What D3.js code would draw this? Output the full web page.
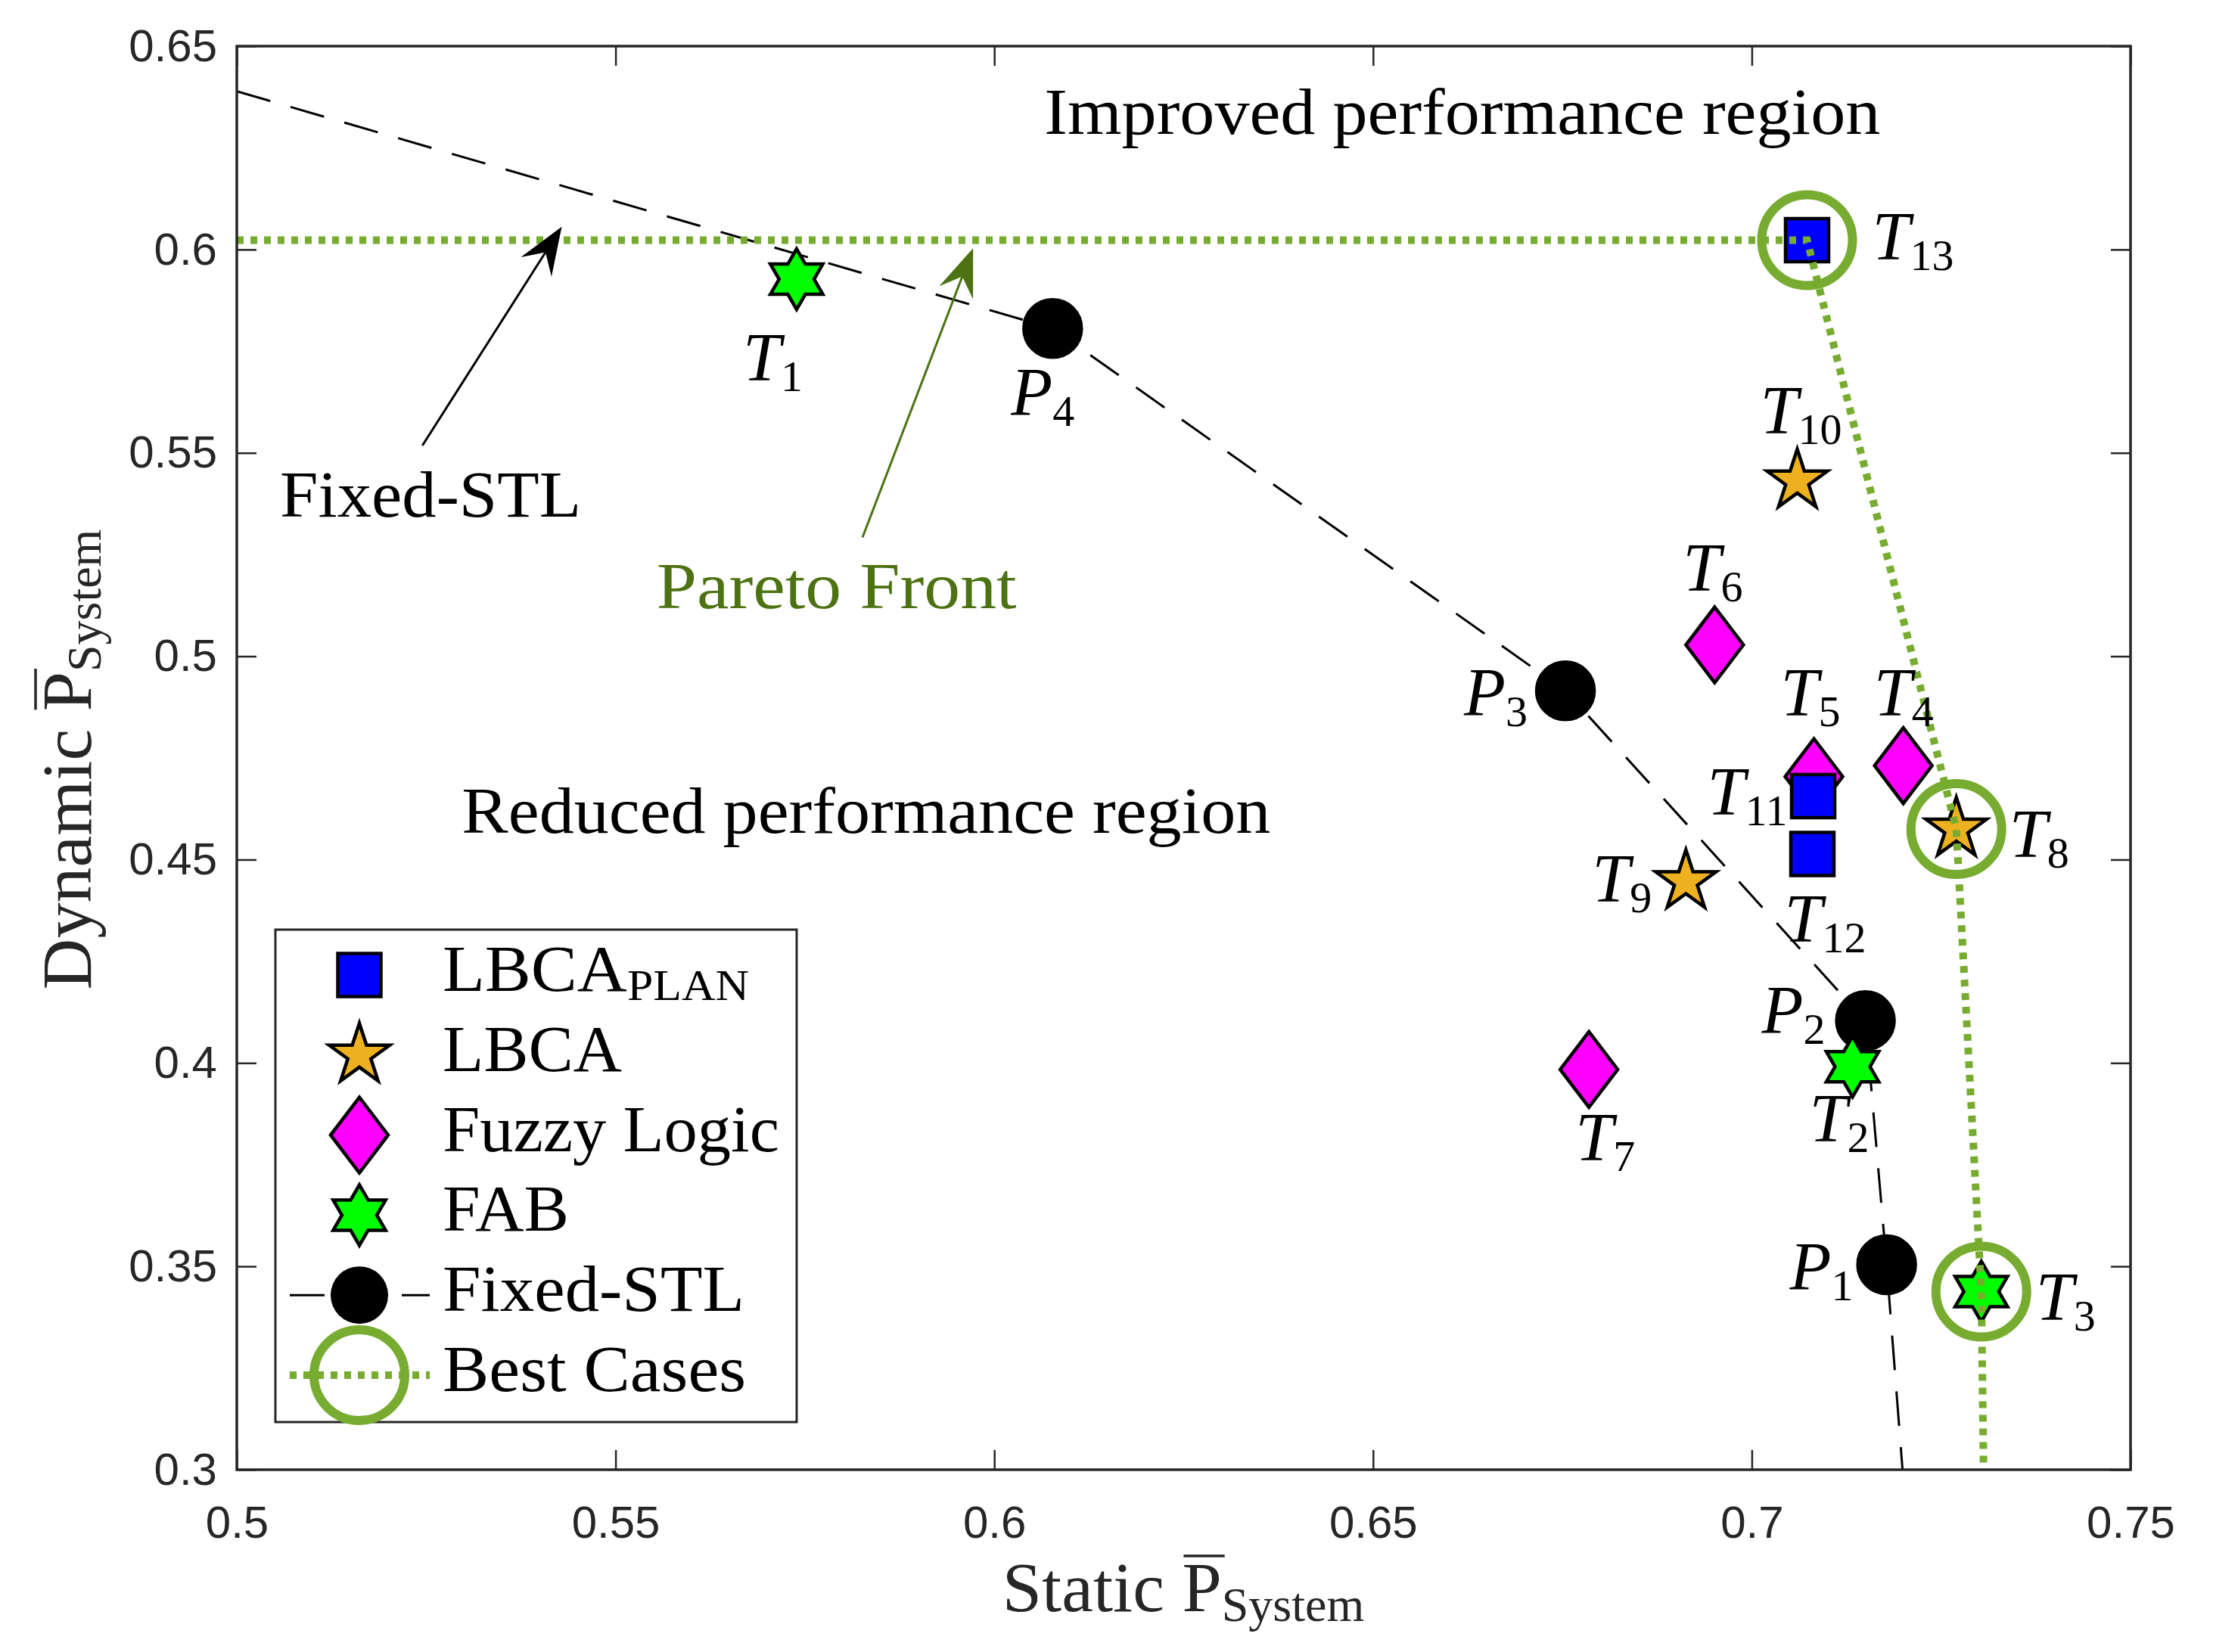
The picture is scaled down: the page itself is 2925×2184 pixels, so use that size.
<!DOCTYPE html>
<html>
<head>
<meta charset="utf-8">
<script src="https://cdn.jsdelivr.net/npm/d3@7"></script>
<style>
  body { margin: 0; background: #fff; }
  svg { display: block; }
</style>
</head>
<body>
<div id="chart"></div>
<script>
// values
var xTicks = [0.5, 0.55, 0.6, 0.65, 0.7, 0.75];
var yTicks = [0.3, 0.35, 0.4, 0.45, 0.5, 0.55, 0.6, 0.65];

var lbcaPlan = [
  {id: "13", x: 0.7073, y: 0.6023},
  {id: "11", x: 0.7081, y: 0.4656},
  {id: "12", x: 0.7080, y: 0.4514}
];
var lbca = [
  {id: "10", x: 0.7060, y: 0.5431},
  {id: "8",  x: 0.7270, y: 0.4575},
  {id: "9",  x: 0.6913, y: 0.4446}
];
var fuzzy = [
  {id: "6", x: 0.6951, y: 0.5028},
  {id: "5", x: 0.7082, y: 0.4704},
  {id: "4", x: 0.7200, y: 0.4731},
  {id: "7", x: 0.6785, y: 0.3984}
];
var fab = [
  {id: "1", x: 0.5739, y: 0.5927},
  {id: "2", x: 0.7133, y: 0.3991},
  {id: "3", x: 0.7303, y: 0.3438}
];
// dashed Fixed-STL curve; points with an id carry a marker
var fixedStl = [
  {id: null, x: 0.5,    y: 0.6389},
  {id: "4",  x: 0.6077, y: 0.5806},
  {id: "3",  x: 0.6754, y: 0.4915},
  {id: "2",  x: 0.7150, y: 0.4104},
  {id: "1",  x: 0.7178, y: 0.3504},
  {id: null, x: 0.7199, y: 0.30}
];
// pareto front (dotted) and circled best cases
var pareto = [
  {x: 0.5,    y: 0.6023},
  {x: 0.7073, y: 0.6023},
  {x: 0.7270, y: 0.4575},
  {x: 0.7303, y: 0.3438},
  {x: 0.7306, y: 0.30}
];
var bestCases = [
  {x: 0.7073, y: 0.6023},
  {x: 0.7270, y: 0.4575},
  {x: 0.7303, y: 0.3438}
];
var legendItems = ["LBCA", "LBCA", "Fuzzy Logic", "FAB", "Fixed-STL", "Best Cases"];
var legendWidths = [405, 237, 445, 167, 399, 401];

// annotations (data coords, like matlab text/annotation)
var notes = [
  {text: "Improved performance region", x: 0.6066, y: 0.6284, w: 1105, color: "#000"},
  {text: "Reduced performance region",  x: 0.5297, y: 0.4565, w: 1069, color: "#000"},
  {text: "Fixed-STL",                   x: 0.5057, y: 0.5343, w: 398,  color: "#000"},
  {text: "Pareto Front",                x: 0.5554, y: 0.5118, w: 476,  color: "#4c7212"}
];
var arrows = [
  {from: [0.5245, 0.5518], to: [0.5429, 0.6056], color: "#000"},
  {from: [0.5826, 0.5292], to: [0.5972, 0.6003], color: "#4c7212"}
];

// label placement (px from marker centre to text start / baseline)
var labelOffsets = {
  T13: [86, 26],  T11: [-140, 24], T12: [-37, 116],
  T10: [-49, -63], T8: [70, 37],   T9: [-124, 27],
  T6: [-42, -72],  T5: [-44, -81], T4: [-39, -66], T7: [-18, 120],
  T1: [-71, 134],  T2: [-57, 99],  T3: [72, 38],
  P4: [-55, 115],  P3: [-134, 33], P2: [-137, 17], P1: [-128, 33]
};

var W = 2925, H = 2184;
var serif = "'Liberation Serif', 'DejaVu Serif', serif";
var sans = "'Liberation Sans', Arial, sans-serif";
var axisColor = "#262626";
var green = "#77ac30";

var x = d3.scaleLinear().domain([0.5, 0.75]).range([313, 2816]);
var y = d3.scaleLinear().domain([0.3, 0.65]).range([1943, 61]);

var svg = d3.select("#chart").append("svg")
  .attr("width", W).attr("height", H)
  .style("background", "#fff");

svg.append("defs").append("clipPath").attr("id", "plotclip")
  .append("rect")
  .attr("x", x(0.5)).attr("y", y(0.65))
  .attr("width", x(0.75) - x(0.5)).attr("height", y(0.3) - y(0.65));

// marker shapes
var hexagram = {draw: function(ctx, r) {
  var ri = r / Math.sqrt(3);
  for (var i = 0; i < 12; i++) {
    var a = -Math.PI / 2 + i * Math.PI / 6, rr = i % 2 ? ri : r;
    if (i === 0) ctx.moveTo(rr * Math.cos(a), rr * Math.sin(a));
    else ctx.lineTo(rr * Math.cos(a), rr * Math.sin(a));
  }
  ctx.closePath();
}};
var pentagram = {draw: function(ctx, r) {
  var ri = r * 0.382;
  for (var i = 0; i < 10; i++) {
    var a = -Math.PI / 2 + i * Math.PI / 5, rr = i % 2 ? ri : r;
    if (i === 0) ctx.moveTo(rr * Math.cos(a), rr * Math.sin(a));
    else ctx.lineTo(rr * Math.cos(a), rr * Math.sin(a));
  }
  ctx.closePath();
}};
var diamond = {draw: function(ctx, r) {
  var w = r * 0.76;
  ctx.moveTo(0, -r); ctx.lineTo(w, 0); ctx.lineTo(0, r); ctx.lineTo(-w, 0);
  ctx.closePath();
}};
var square = {draw: function(ctx, r) { ctx.rect(-r, -r, 2 * r, 2 * r); }};
var circle = {draw: function(ctx, r) { ctx.moveTo(r, 0); ctx.arc(0, 0, r, 0, 2 * Math.PI); }};

var styles = {
  plan:  {type: square,    size: 28.5, fill: "#0000ff"},
  lbca:  {type: pentagram, size: 42,   fill: "#edb120"},
  fuzzy: {type: diamond,   size: 50,   fill: "#ff00ff"},
  fab:   {type: hexagram,  size: 40,   fill: "#00ff00"},
  fixed: {type: circle,    size: 38,   fill: "#000"}
};

function symbolPath(st) { return d3.symbol().type(st.type).size(st.size)(); }

// axes ticks (inside, mirrored on top/right)
var gAx = svg.append("g");
gAx.append("g").attr("transform", "translate(0," + y(0.3) + ")")
  .call(d3.axisBottom(x).tickValues(xTicks).tickSize(-26).tickPadding(47)
    .tickFormat(function(d) { return String(+d.toFixed(2)); }));
gAx.append("g").attr("transform", "translate(0," + y(0.65) + ")")
  .call(d3.axisTop(x).tickValues(xTicks).tickSize(-26).tickFormat(""));
gAx.append("g").attr("transform", "translate(" + x(0.5) + ",0)")
  .call(d3.axisLeft(y).tickValues(yTicks).tickSize(-26).tickPadding(26)
    .tickFormat(function(d) { return String(+d.toFixed(2)); }));
gAx.append("g").attr("transform", "translate(" + x(0.75) + ",0)")
  .call(d3.axisRight(y).tickValues(yTicks).tickSize(-26).tickFormat(""));
gAx.selectAll(".domain").remove();
gAx.selectAll(".tick line").attr("stroke", axisColor).attr("stroke-width", 2.5);
gAx.selectAll(".tick text").attr("fill", axisColor)
  .attr("font-family", sans).attr("font-size", 60);

var plot = svg.append("g").attr("clip-path", "url(#plotclip)");

// Fixed-STL dashed line + circles
var line = d3.line().x(function(d) { return x(d.x); }).y(function(d) { return y(d.y); });
plot.append("path").datum(fixedStl).attr("d", line)
  .attr("fill", "none").attr("stroke", "#000").attr("stroke-width", 3)
  .attr("stroke-dasharray", "46,28");

function drawMarkers(data, st) {
  plot.append("g").selectAll("path").data(data).enter().append("path")
    .attr("transform", function(d) { return "translate(" + x(d.x) + "," + y(d.y) + ")"; })
    .attr("d", symbolPath(st))
    .attr("fill", st.fill).attr("stroke", "#000").attr("stroke-width", 4.5)
    .attr("stroke-linejoin", "miter");
}
drawMarkers(fixedStl.filter(function(d) { return d.id; }), styles.fixed);
drawMarkers(fuzzy, styles.fuzzy);
drawMarkers(lbcaPlan, styles.plan);
drawMarkers(lbca, styles.lbca);
drawMarkers(fab, styles.fab);

// pareto front + best cases
plot.append("path").datum(pareto).attr("d", line)
  .attr("fill", "none").attr("stroke", green).attr("stroke-width", 10)
  .attr("stroke-dasharray", "9,9");
plot.append("g").selectAll("circle").data(bestCases).enter().append("circle")
  .attr("cx", function(d) { return x(d.x); }).attr("cy", function(d) { return y(d.y); })
  .attr("r", 60).attr("fill", "none").attr("stroke", green).attr("stroke-width", 12);

// point labels
var gLab = svg.append("g").attr("font-family", serif).attr("fill", "#000");
function labels(data, letter) {
  data.forEach(function(d) {
    if (!d.id) return;
    var o = labelOffsets[letter + d.id];
    var t = gLab.append("text").attr("x", x(d.x) + o[0]).attr("y", y(d.y) + o[1])
      .attr("font-size", 90);
    t.append("tspan").attr("font-style", "italic").text(letter);
    t.append("tspan").attr("font-size", 58).attr("dy", 14).text(d.id);
  });
}
labels(lbcaPlan, "T"); labels(lbca, "T"); labels(fuzzy, "T"); labels(fab, "T");
labels(fixedStl, "P");

// text annotations and arrows
notes.forEach(function(n) {
  svg.append("text").attr("x", x(n.x)).attr("y", y(n.y))
    .attr("font-family", serif).attr("font-size", 86).attr("fill", n.color)
    .attr("textLength", n.w).attr("lengthAdjust", "spacingAndGlyphs")
    .text(n.text);
});
arrows.forEach(function(a) {
  var x0 = x(a.from[0]), y0 = y(a.from[1]), x1 = x(a.to[0]), y1 = y(a.to[1]);
  var dx = x1 - x0, dy = y1 - y0, len = Math.sqrt(dx * dx + dy * dy);
  var ux = dx / len, uy = dy / len, px = -uy, py = ux;
  var hl = 63, hw = 24, notch = 40;
  svg.append("line").attr("x1", x0).attr("y1", y0)
    .attr("x2", x1 - ux * notch).attr("y2", y1 - uy * notch)
    .attr("stroke", a.color).attr("stroke-width", 3);
  var pts = [
    [x1, y1],
    [x1 - ux * hl + px * hw, y1 - uy * hl + py * hw],
    [x1 - ux * notch, y1 - uy * notch],
    [x1 - ux * hl - px * hw, y1 - uy * hl - py * hw]
  ];
  svg.append("polygon").attr("points", pts.map(function(p) { return p.join(","); }).join(" "))
    .attr("fill", a.color);
});

// frame
svg.append("rect")
  .attr("x", x(0.5)).attr("y", y(0.65))
  .attr("width", x(0.75) - x(0.5)).attr("height", y(0.3) - y(0.65))
  .attr("fill", "none").attr("stroke", axisColor).attr("stroke-width", 3.5);

// axis labels with overlined P and subscript
function axisLabel(g, pre) {
  var t = g.append("text").attr("x", 0).attr("y", 0)
    .attr("text-anchor", "middle").attr("font-family", serif)
    .attr("font-size", 94).attr("fill", axisColor);
  t.append("tspan").text(pre + " ");
  t.append("tspan").text("P");
  t.append("tspan").attr("font-size", 64).attr("dy", 13).text("System");
  var node = t.node(), i = pre.length + 1;
  var p0 = node.getStartPositionOfChar(i).x, pw = node.getSubStringLength(i, 1);
  g.append("line").attr("x1", p0 + 2).attr("x2", p0 + pw + 4)
    .attr("y1", -73).attr("y2", -73)
    .attr("stroke", axisColor).attr("stroke-width", 3.5);
}
axisLabel(svg.append("g").attr("transform", "translate(1564,2130)"), "Static");
axisLabel(svg.append("g").attr("transform", "translate(120,1004) rotate(-90)"), "Dynamic");

// legend
var leg = svg.append("g");
leg.append("rect").attr("x", 364).attr("y", 1229).attr("width", 689).attr("height", 651)
  .attr("fill", "#fff").attr("stroke", axisColor).attr("stroke-width", 3);
var rowY = d3.scalePoint().domain(d3.range(6)).range([1289, 1818]);
var legStyles = [styles.plan, styles.lbca, styles.fuzzy, styles.fab];
legStyles.forEach(function(st, i) {
  leg.append("path").attr("transform", "translate(475," + rowY(i) + ")")
    .attr("d", symbolPath(st)).attr("fill", st.fill)
    .attr("stroke", "#000").attr("stroke-width", 4.5);
});
leg.append("line").attr("x1", 383).attr("x2", 568).attr("y1", rowY(4)).attr("y2", rowY(4))
  .attr("stroke", "#000").attr("stroke-width", 3).attr("stroke-dasharray", "46,28");
leg.append("path").attr("transform", "translate(475," + rowY(4) + ")")
  .attr("d", symbolPath(styles.fixed)).attr("fill", "#000");
leg.append("line").attr("x1", 383).attr("x2", 568).attr("y1", rowY(5)).attr("y2", rowY(5))
  .attr("stroke", green).attr("stroke-width", 10).attr("stroke-dasharray", "9,9");
leg.append("circle").attr("cx", 475).attr("cy", rowY(5)).attr("r", 60)
  .attr("fill", "none").attr("stroke", green).attr("stroke-width", 12);

legendItems.forEach(function(name, i) {
  var t = leg.append("text").attr("x", 585).attr("y", rowY(i) + 21)
    .attr("font-family", serif).attr("font-size", 86).attr("fill", "#000")
    .attr("textLength", legendWidths[i]).attr("lengthAdjust", "spacingAndGlyphs");
  t.append("tspan").text(name);
  if (i === 0) t.append("tspan").attr("font-size", 58).attr("dy", 12).text("PLAN");
});
</script>
</body>
</html>
